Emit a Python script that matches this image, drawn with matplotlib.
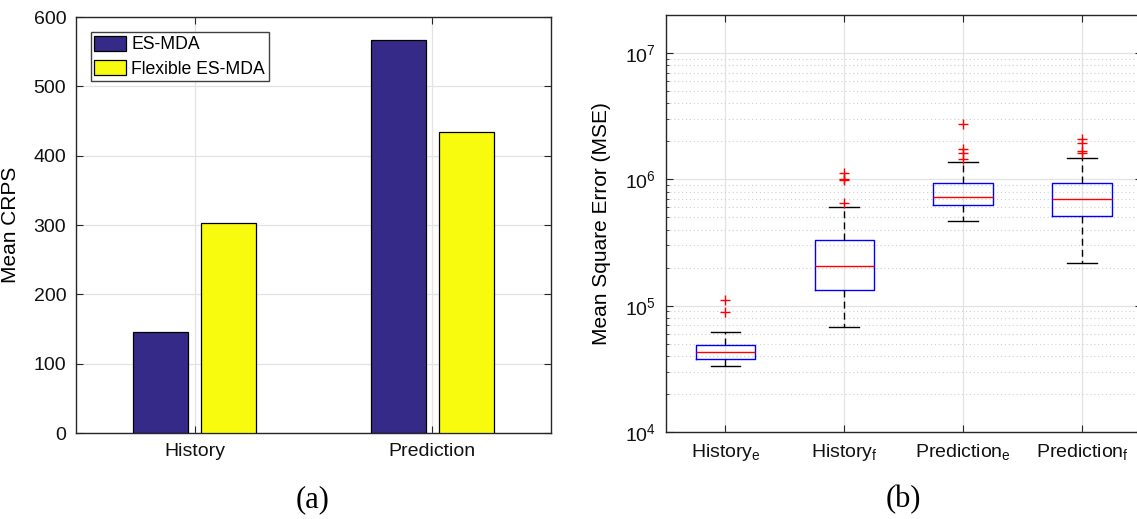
import matplotlib
matplotlib.use("Agg")
import matplotlib.pyplot as plt
import numpy as np

plt.rcParams['font.family'] = ['Liberation Sans', 'DejaVu Sans']
plt.rcParams['mathtext.fontset'] = 'custom'
plt.rcParams['mathtext.rm'] = 'Liberation Sans'
plt.rcParams['mathtext.it'] = 'Liberation Sans'

# ---- data: panel (a) ----
groups = ['History', 'Prediction']
series_names = ['ES-MDA', 'Flexible ES-MDA']
es_mda = [146, 567]
flex_es_mda = [303, 434]

# ---- data: panel (b) box statistics ----
box_labels = [r'History$_{\mathrm{e}}$', r'History$_{\mathrm{f}}$',
              r'Prediction$_{\mathrm{e}}$', r'Prediction$_{\mathrm{f}}$']
medians = [4.3e4, 2.05e5, 7.3e5, 7.0e5]
q1s = [3.78e4, 1.32e5, 6.3e5, 5.1e5]
q3s = [4.85e4, 3.29e5, 9.35e5, 9.35e5]
whis_lo = [3.33e4, 6.8e4, 4.65e5, 2.16e5]
whis_hi = [6.2e4, 6.08e5, 1.36e6, 1.48e6]
outliers = [[1.11e5, 8.9e4],
            [1.13e6, 1.01e6, 0.99e6, 6.46e5],
            [2.72e6, 1.74e6, 1.63e6, 1.44e6],
            [2.07e6, 1.95e6, 1.69e6, 1.62e6]]

AX_COL = '#262626'
GRID_COL = '#e3e3e3'
NAVY = '#352a87'
YELLOW = '#f9fb0e'

fig = plt.figure(figsize=(11.37, 5.19), dpi=100)

# ================= panel (a) =================
ax1 = fig.add_axes([76/1137, 1-433/519, 475/1137, 416/519])
x = np.arange(1, len(groups)+1)
w = 0.23
off = 0.143
ax1.bar(x-off, es_mda, w, color=NAVY, edgecolor='black', linewidth=0.9,
        label=series_names[0], zorder=3)
ax1.bar(x+off, flex_es_mda, w, color=YELLOW, edgecolor='black', linewidth=0.9,
        label=series_names[1], zorder=3)
ax1.set_xlim(0.5, 2.5)
ax1.set_ylim(0, 600)
ax1.set_yticks(np.arange(0, 601, 100))
ax1.set_xticks(x)
ax1.set_xticklabels(groups)
ax1.set_ylabel('Mean CRPS', fontsize=15)
ax1.yaxis.set_label_coords(-0.118, 0.5)
ax1.grid(True, color=GRID_COL, linewidth=0.9, zorder=0)
ax1.set_axisbelow(True)
ax1.tick_params(direction='in', top=True, right=True, labelsize=14,
                color=AX_COL, labelcolor='#111111', length=5, pad=7)
for s in ax1.spines.values():
    s.set_color(AX_COL)
    s.set_linewidth(1.0)
leg = ax1.legend(loc='upper left', bbox_to_anchor=(0.031, 0.964), fontsize=12.7,
                 fancybox=False, framealpha=1, edgecolor='#404040',
                 handlelength=1.8, handleheight=1.0, handletextpad=0.3,
                 borderpad=0.2, labelspacing=0.35, borderaxespad=0)
leg.get_frame().set_linewidth(1.0)

fig.text(313/1137, 1-500/519, '(a)', family=['Liberation Serif', 'DejaVu Serif'],
         fontsize=22, ha='center', va='center')

# ================= panel (b) =================
ax2 = fig.add_axes([666/1137, 1-432/519, 475.5/1137, 417/519])
stats = []
for i in range(len(box_labels)):
    stats.append(dict(med=medians[i], q1=q1s[i], q3=q3s[i],
                      whislo=whis_lo[i], whishi=whis_hi[i],
                      fliers=outliers[i], label=box_labels[i]))
ax2.bxp(stats, positions=np.arange(1, 5), widths=0.5, showfliers=True,
        boxprops=dict(color='blue', linewidth=1.0),
        medianprops=dict(color='red', linewidth=1.0),
        whiskerprops=dict(color='black', linestyle=(0, (5, 3)), linewidth=1.0),
        capprops=dict(color='black', linewidth=1.0),
        capwidths=0.25,
        flierprops=dict(marker='+', markeredgecolor='red', markersize=7,
                        markeredgewidth=1.0, linestyle='none'))
ax2.set_yscale('log')
ax2.set_ylim(1e4, 2e7)
ax2.set_xlim(0.5, 4.5)
ax2.set_ylabel('Mean Square Error (MSE)', fontsize=15)
ax2.yaxis.set_label_coords(-0.116, 0.5)
ax2.grid(True, which='major', color=GRID_COL, linewidth=0.9, zorder=0)
ax2.grid(True, which='minor', axis='y', color='#cfcfcf', linestyle=(0, (1, 2.5)),
         linewidth=0.8, zorder=0)
ax2.set_axisbelow(True)
ax2.tick_params(which='major', direction='in', top=True, right=True, labelsize=14,
                color=AX_COL, labelcolor='#111111', length=5, pad=7)
ax2.tick_params(which='minor', direction='in', right=True, length=2.5,
                color=AX_COL)
for s in ax2.spines.values():
    s.set_color(AX_COL)
    s.set_linewidth(1.0)

fig.text(903/1137, 1-500/519, '(b)', family=['Liberation Serif', 'DejaVu Serif'],
         fontsize=22, ha='center', va='center')

fig.savefig('out.png', dpi=100)
